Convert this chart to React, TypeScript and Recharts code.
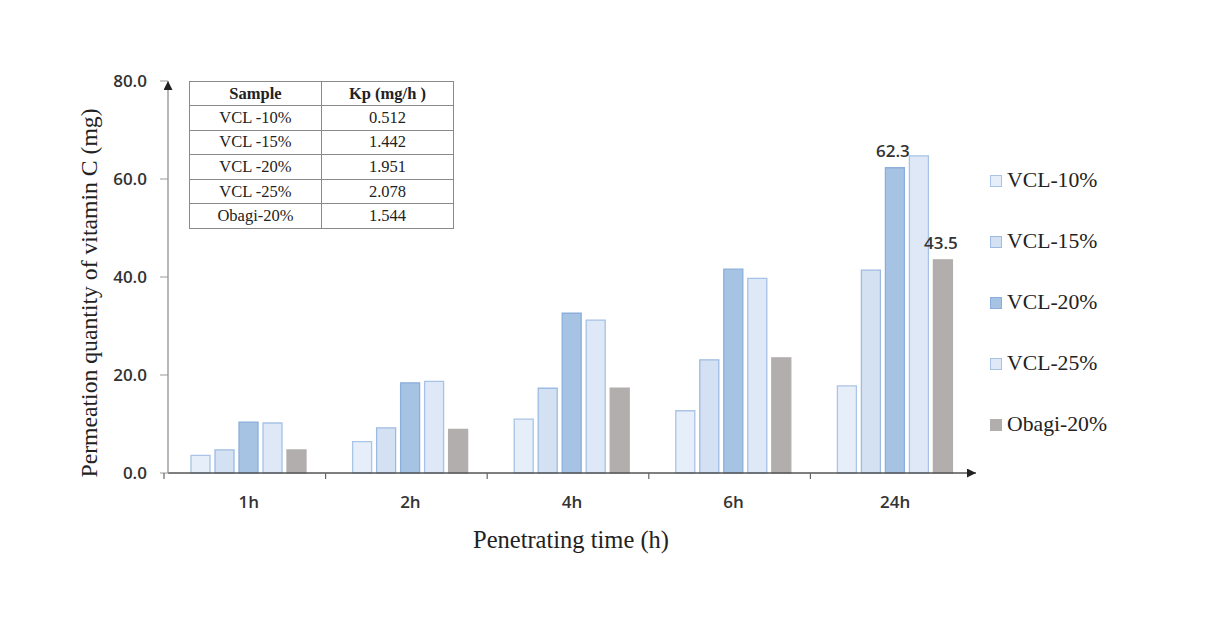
import React from 'react';
import { BarChart, Bar, XAxis, YAxis, LabelList } from 'recharts';

const categories = ['1h', '2h', '4h', '6h', '24h'];
const vcl10 = [3.6, 6.4, 11.0, 12.7, 17.8];
const vcl15 = [4.7, 9.2, 17.3, 23.1, 41.4];
const vcl20 = [10.4, 18.4, 32.6, 41.6, 62.3];
const vcl25 = [10.2, 18.7, 31.2, 39.7, 64.7];
const obagi = [4.7, 8.9, 17.3, 23.5, 43.5];
const yTicks = [0, 20, 40, 60, 80];
const seriesNames = ['VCL-10%', 'VCL-15%', 'VCL-20%', 'VCL-25%', 'Obagi-20%'];
const seriesKeys = ['v10', 'v15', 'v20', 'v25', 'ob'];
const fills = ['#e6eff9', '#d4e1f2', '#a7c3e3', '#dee8f6', '#b2aeae'];
const strokes = ['#a9c4e6', '#9dbbe2', '#8aafdc', '#a6c2e6', '#b2aeae'];
const tableHeader = ['Sample', 'Kp (mg/h )'];
const tableSamples = ['VCL -10%', 'VCL -15%', 'VCL -20%', 'VCL -25%', 'Obagi-20%'];
const tableKp = ['0.512', '1.442', '1.951', '2.078', '1.544'];
const labelledIndex = 4;

const data = categories.map((c, i) => ({
  cat: c,
  v10: vcl10[i],
  v15: vcl15[i],
  v20: vcl20[i],
  v25: vcl25[i],
  ob: obagi[i],
}));

const W = 1220;
const H = 624;
const M = { top: 81, right: 244, bottom: 121, left: 108 };
const plotW = W - M.left - M.right;
const band = plotW / categories.length;

const sansFont = "'Open Sans', 'Liberation Sans', sans-serif";
const serifFont = "'Liberation Serif', 'Times New Roman', serif";

const XTick = (props: any) => {
  const { x, y, payload } = props;
  const bx = x - band / 2;
  return (
    <g>
      <line x1={bx + 2} y1={y} x2={bx + 2} y2={y + 6} stroke="#666" strokeWidth={1.2} />
      <text x={x} y={y + 35} textAnchor="middle" fill="#333" fontSize={17} fontWeight={600} fontFamily={sansFont}>
        {payload.value}
      </text>
    </g>
  );
};

const topLabel = (props: any) => {
  const { x, y, width, value, index } = props;
  if (index !== labelledIndex) return null;
  return (
    <text x={Number(x) + Number(width) / 2 - 2} y={Number(y) - 11} textAnchor="middle" fill="#333" fontSize={17} fontWeight={600} fontFamily={sansFont}>
      {Number(value).toFixed(1)}
    </text>
  );
};

export default function App() {
  return (
    <div style={{ position: 'absolute', left: 0, top: 0, width: W, height: H, background: '#fff' }}>
      <svg width={0} height={0} style={{ position: 'absolute' }}>
        <defs>
          <marker id="arrowHead" viewBox="0 0 10 10" refX={10} refY={5} markerWidth={12} markerHeight={9} markerUnits="userSpaceOnUse" orient="auto-start-reverse">
            <path d="M0,0 L10,5 L0,10 z" fill="#222" />
          </marker>
        </defs>
      </svg>
      <BarChart width={W} height={H} data={data} margin={M} barGap={5}>
        <XAxis
          dataKey="cat"
          tickSize={0}
          tickMargin={0}
          tickLine={false}
          tick={<XTick />}
          axisLine={{ stroke: '#555', strokeWidth: 1.4, markerEnd: 'url(#arrowHead)' } as any}
          height={30}
          label={{
            content: () => (
              <text x={571} y={548} textAnchor="middle" fill="#222" fontSize={24.5} fontFamily={serifFont}>
                Penetrating time (h)
              </text>
            ),
          } as any}
        />
        <YAxis
          width={60}
          domain={[0, 80]}
          ticks={yTicks}
          tickSize={8}
          tickMargin={13}
          tickLine={{ stroke: '#999' }}
          axisLine={{ stroke: '#999', strokeWidth: 1.4, markerStart: 'url(#arrowHead)' } as any}
          tick={{ fill: '#333', fontSize: 17, fontWeight: 600, fontFamily: sansFont }}
          tickFormatter={(v: number) => v.toFixed(1)}
          label={{
            content: () => (
              <text transform="translate(97,293) rotate(-90)" textAnchor="middle" fill="#222" fontSize={23.7} fontFamily={serifFont}>
                Permeation quantity of vitamin C (mg)
              </text>
            ),
          } as any}
        />
        {seriesKeys.map((k, i) => (
          <Bar
            key={k}
            dataKey={k}
            name={seriesNames[i]}
            fill={fills[i]}
            stroke={strokes[i]}
            strokeWidth={1.3}
            barSize={19}
            isAnimationActive={false}
          >
            {(k === 'v20' || k === 'ob') && <LabelList dataKey={k} content={topLabel} />}
          </Bar>
        ))}
      </BarChart>

      <table
        style={{
          position: 'absolute',
          left: 189,
          top: 81,
          width: 265,
          borderCollapse: 'collapse',
          fontFamily: serifFont,
          fontSize: 16.5,
          color: '#222',
          background: '#fff',
        }}
      >
        <tbody>
          <tr style={{ height: 24 }}>
            {tableHeader.map((h) => (
              <td key={h} style={{ border: '1px solid #8a8a8a', textAlign: 'center', fontWeight: 'bold', padding: 0, width: '50%', lineHeight: '20px' }}>
                {h}
              </td>
            ))}
          </tr>
          {tableSamples.map((s, i) => (
            <tr key={s} style={{ height: 24.6 }}>
              <td style={{ border: '1px solid #8a8a8a', textAlign: 'center', padding: 0, lineHeight: '20px' }}>{s}</td>
              <td style={{ border: '1px solid #8a8a8a', textAlign: 'center', padding: 0, lineHeight: '20px' }}>{tableKp[i]}</td>
            </tr>
          ))}
        </tbody>
      </table>

      <div style={{ position: 'absolute', left: 990, top: 166 }}>
        {seriesNames.map((n, i) => (
          <div key={n} style={{ height: 61, display: 'flex', alignItems: 'flex-start' }}>
            <div
              style={{
                width: 10,
                height: 10,
                marginTop: 9,
                marginRight: 5,
                background: fills[i],
                border: `1.5px solid ${strokes[i]}`,
              }}
            />
            <span style={{ fontFamily: serifFont, fontSize: 21.7, color: '#222', lineHeight: '28px' }}>{n}</span>
          </div>
        ))}
      </div>
    </div>
  );
}
